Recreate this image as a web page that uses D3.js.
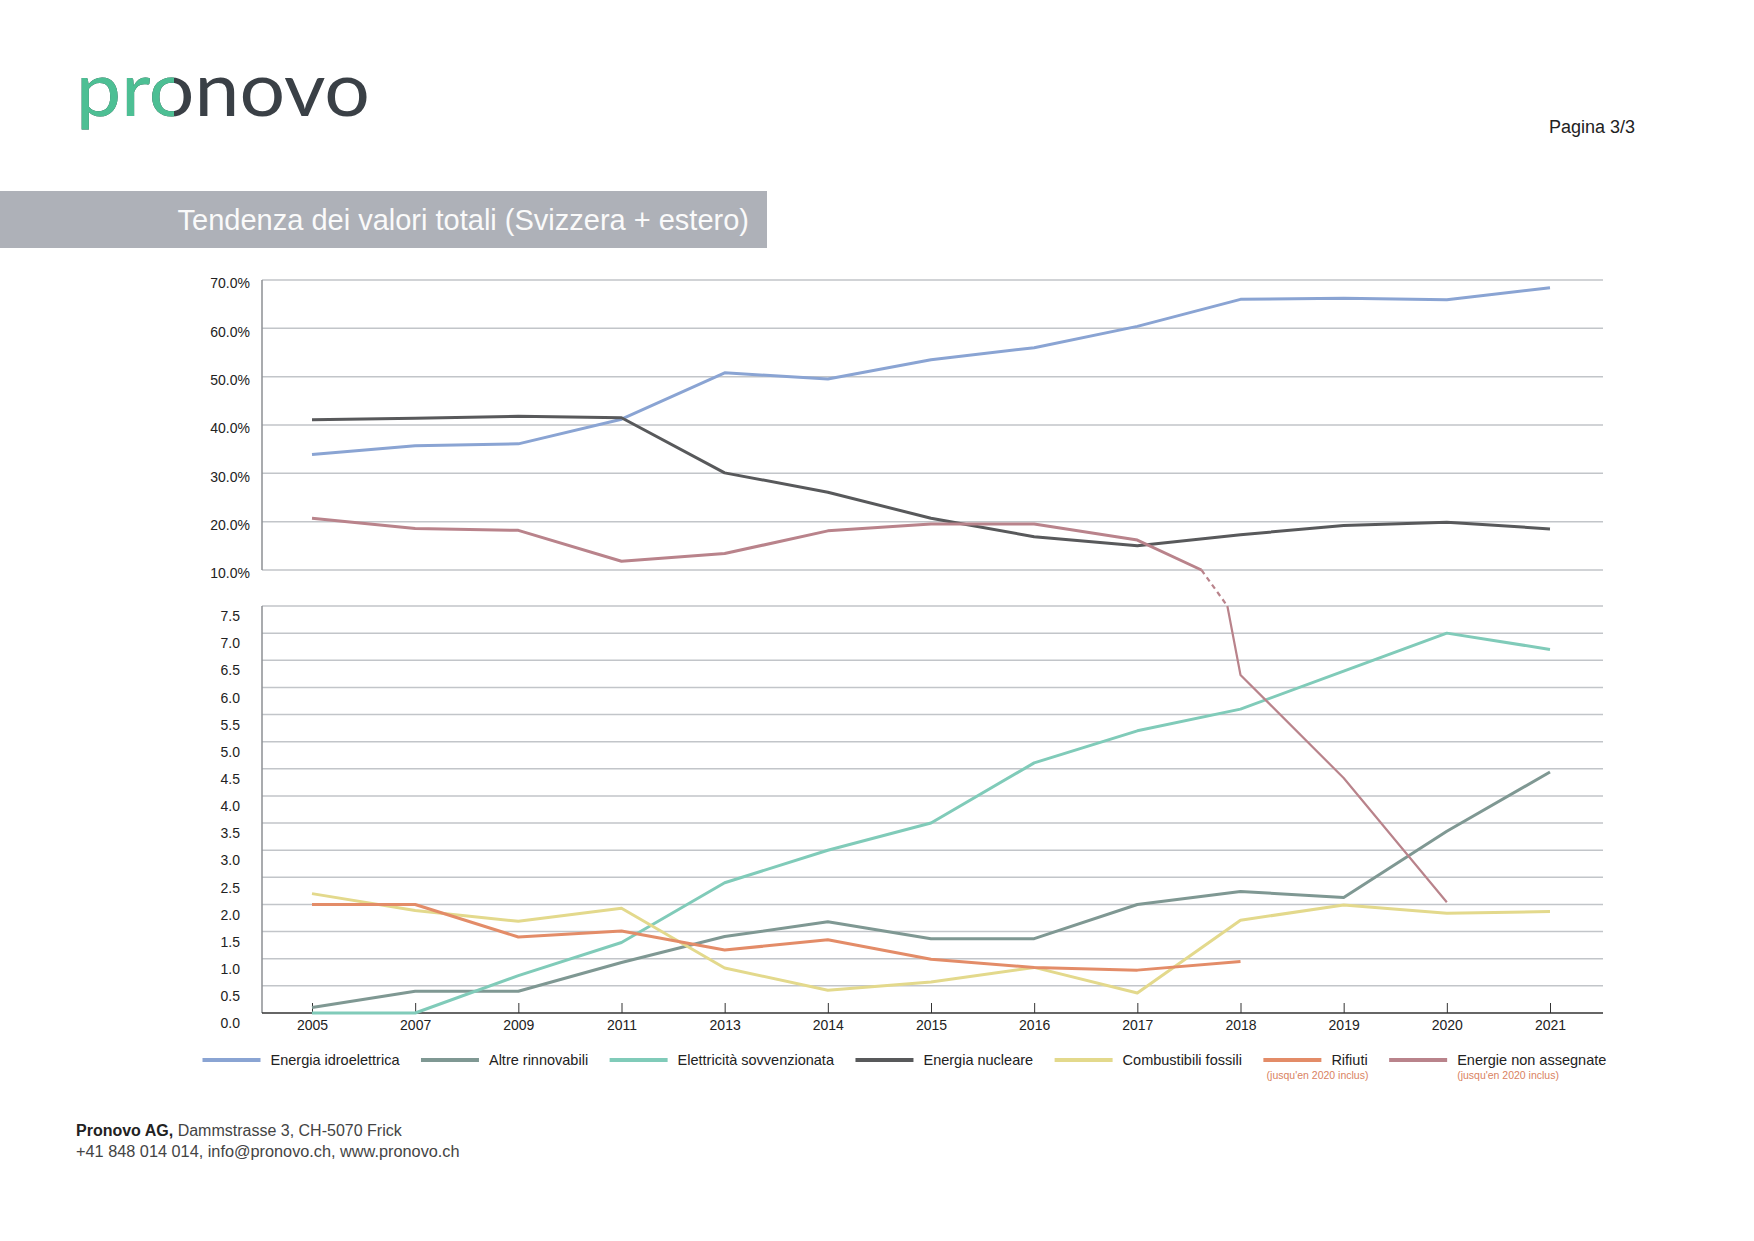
<!DOCTYPE html>
<html><head><meta charset="utf-8">
<script src="https://cdn.jsdelivr.net/npm/d3@7"></script>
<style>
body{margin:0;background:#fff;}
svg{display:block;font-family:"Liberation Sans",Arial,sans-serif;}
</style>
</head><body>
<svg id="c" width="1754" height="1241"></svg>
<script>
// ---------- DATA ----------
const categories = ["2005","2007","2009","2011","2013","2014","2015","2016","2017","2018","2019","2020","2021"];
const seriesNames = ["Energia idroelettrica","Altre rinnovabili","Elettricità sovvenzionata","Energia nucleare","Combustibili fossili","Rifiuti","Energie non assegnate"];
const seriesColors = ["#8aa4d3","#7f9893","#80cbb9","#58595b","#e3d98c","#e38c68","#b9838b"];
const hydro      = [33.9,35.7,36.1,41.2,50.8,49.5,53.5,56.0,60.4,66.0,66.2,65.9,68.4];
const otherRenew = [0.10,0.40,0.40,0.93,1.41,1.68,1.37,1.37,2.00,2.24,2.13,3.35,4.44];
const subsidised = [0.00,0.00,0.69,1.30,2.40,3.00,3.50,4.61,5.20,5.60,6.30,7.00,6.70];
const nuclear    = [41.1,41.4,41.8,41.5,30.1,26.1,20.7,16.9,15.0,17.3,19.2,19.9,18.5];
const fossil     = [2.20,1.89,1.69,1.93,0.83,0.42,0.57,0.84,0.37,1.71,1.99,1.84,1.87];
const waste      = [2.00,2.00,1.40,1.51,1.16,1.35,0.99,0.84,0.79,0.95,null,null,null];
const unassigned = [20.7,18.6,18.2,11.8,13.4,18.1,19.5,19.5,16.2,6.23,4.33,2.04,null];
const upperTicks = [10,20,30,40,50,60,70];
const lowerTicks = [0,0.5,1,1.5,2,2.5,3,3.5,4,4.5,5,5.5,6,6.5,7,7.5];
const breakLow = 7.5, breakHigh = 10;
const noteText = "(jusqu'en 2020 inclus)";
const allSeries = [hydro, otherRenew, subsidised, nuclear, fossil, waste, unassigned];

// ---------- PAGE ----------
const svg = d3.select("#c");
svg.append("rect").attr("width",1754).attr("height",1241).attr("fill","#fff");

// logo
const logoDark = svg.append("text").attr("x",76).attr("y",116)
  .attr("font-family","Lato, 'Open Sans', sans-serif").attr("font-size",75)
  .attr("textLength",294).attr("lengthAdjust","spacingAndGlyphs")
  .attr("fill","#3a4046").text("pronovo");
const ext = logoDark.node().getExtentOfChar(2);
const splitX = ext.x + ext.width*0.55;
svg.append("clipPath").attr("id","logoclip").append("rect")
  .attr("x",0).attr("y",0).attr("width",splitX).attr("height",200);
svg.append("text").attr("x",76).attr("y",116)
  .attr("font-family","Lato, 'Open Sans', sans-serif").attr("font-size",75)
  .attr("textLength",294).attr("lengthAdjust","spacingAndGlyphs")
  .attr("fill","#4dbf94").attr("clip-path","url(#logoclip)").text("pronovo");

svg.append("text").attr("x",1635).attr("y",133).attr("text-anchor","end")
  .attr("font-size",18).attr("fill","#222").text("Pagina 3/3");

svg.append("rect").attr("x",0).attr("y",191).attr("width",767).attr("height",57).attr("fill","#aeb1b8");
svg.append("text").attr("x",749).attr("y",230).attr("text-anchor","end")
  .attr("font-size",29).attr("fill","#fafafa").text("Tendenza dei valori totali (Svizzera + estero)");

// ---------- SCALES ----------
const x = d3.scalePoint().domain(categories).range([312,1550]);
const y = d3.scaleLinear().domain([0,breakLow,breakHigh,70]).range([1013,606,570,280]);
const gridX0 = 262, gridX1 = 1603;

// gridlines
const grid = svg.append("g");
grid.selectAll("line.g").data(upperTicks.concat(lowerTicks.filter(d=>d>0))).join("line")
  .attr("x1",gridX0).attr("x2",gridX1).attr("y1",d=>y(d)).attr("y2",d=>y(d))
  .attr("stroke","#c2c5c9").attr("stroke-width",1.5);

// left axis lines
svg.append("line").attr("x1",gridX0).attr("x2",gridX0).attr("y1",y(70)).attr("y2",y(breakHigh))
  .attr("stroke","#8c8f93").attr("stroke-width",1.5);
svg.append("line").attr("x1",gridX0).attr("x2",gridX0).attr("y1",y(breakLow)).attr("y2",y(0))
  .attr("stroke","#8c8f93").attr("stroke-width",1.5);

// y axis labels
const ua = svg.append("g").attr("transform",`translate(${gridX0},0)`)
  .call(d3.axisLeft(y).tickValues(upperTicks).tickFormat(d=>d.toFixed(1)+"%").tickSize(0).tickPadding(12));
ua.select(".domain").remove();
ua.selectAll("text").attr("font-size",14).attr("fill","#222").attr("font-family","'Liberation Sans',Arial,sans-serif").attr("dy","0.55em");
const la = svg.append("g").attr("transform",`translate(${gridX0},0)`)
  .call(d3.axisLeft(y).tickValues(lowerTicks).tickFormat(d=>d.toFixed(1)).tickSize(0).tickPadding(22));
la.select(".domain").remove();
la.selectAll("text").attr("font-size",14).attr("fill","#222").attr("font-family","'Liberation Sans',Arial,sans-serif").attr("dy","1.05em");

// bottom axis
const xa = svg.append("g").attr("transform",`translate(0,${y(0)})`)
  .call(d3.axisBottom(x).tickSizeInner(-10).tickSizeOuter(0).tickPadding(7));
xa.select(".domain").remove();
xa.selectAll("line").attr("stroke","#333").attr("stroke-width",1);
xa.selectAll("text").attr("font-size",14).attr("fill","#222").attr("font-family","'Liberation Sans',Arial,sans-serif");
svg.append("line").attr("x1",gridX0).attr("x2",gridX1).attr("y1",y(0)).attr("y2",y(0))
  .attr("stroke","#333").attr("stroke-width",1.6);

// ---------- LINES ----------
function polylines(vals){
  const segs=[];
  for(let i=0;i<vals.length-1;i++){
    const a=vals[i], b=vals[i+1];
    if(a==null||b==null) continue;
    const ts=[0];
    [breakHigh,breakLow].forEach(t=>{ if((a-t)*(b-t)<0) ts.push((t-a)/(b-a)); });
    ts.push(1); ts.sort((p,q)=>p-q);
    const xa0=x(categories[i]), xb0=x(categories[i+1]);
    for(let j=0;j<ts.length-1;j++){
      const t0=ts[j], t1=ts[j+1], vm=a+(b-a)*(t0+t1)/2;
      const kind = vm>=breakHigh?"up":(vm<=breakLow?"low":"gap");
      segs.push({kind, p0:[xa0+(xb0-xa0)*t0, a+(b-a)*t0], p1:[xa0+(xb0-xa0)*t1, a+(b-a)*t1]});
    }
  }
  const out=[];
  segs.forEach(s=>{
    const last=out[out.length-1];
    if(last && last.kind===s.kind && Math.abs(last.pts[last.pts.length-1][0]-s.p0[0])<1e-6){
      last.pts.push(s.p1);
    } else out.push({kind:s.kind, pts:[s.p0,s.p1]});
  });
  return out;
}
const line = d3.line().x(d=>d[0]).y(d=>y(d[1]));
const lg = svg.append("g");
allSeries.forEach((vals,k)=>{
  const thin = k===6;
  polylines(vals).forEach(pl=>{
    lg.append("path").attr("d",line(pl.pts)).attr("fill","none")
      .attr("stroke",seriesColors[k])
      .attr("stroke-width", pl.kind==="low" && thin ? 2.2 : (pl.kind==="gap"?2.2:3))
      .attr("stroke-dasharray", pl.kind==="gap" ? "5,4" : null)
      .attr("stroke-linejoin","round");
  });
});

// ---------- LEGEND ----------
const leg = svg.append("g");
let lx = 202.5;
const ly = 1060;
seriesNames.forEach((name,k)=>{
  leg.append("line").attr("x1",lx).attr("x2",lx+58).attr("y1",ly).attr("y2",ly)
    .attr("stroke",seriesColors[k]).attr("stroke-width",4);
  const t = leg.append("text").attr("x",lx+68).attr("y",ly+5).attr("font-size",14.5).attr("fill","#222").text(name);
  const tw = t.node().getComputedTextLength();
  if(k===5){
    leg.append("text").attr("x",(lx+lx+68+tw)/2+2).attr("y",ly+19).attr("text-anchor","middle")
      .attr("font-size",10.5).attr("fill","#d9825f").text(noteText);
  }
  if(k===6){
    leg.append("text").attr("x",lx+68).attr("y",ly+19)
      .attr("font-size",10.5).attr("fill","#d9825f").text(noteText);
  }
  lx += 68 + tw + 21.5;
});

// ---------- FOOTER ----------
const f1 = svg.append("text").attr("x",76).attr("y",1136).attr("font-size",16).attr("fill","#444");
f1.append("tspan").attr("font-weight","bold").attr("fill","#222").text("Pronovo AG,");
f1.append("tspan").text(" Dammstrasse 3, CH-5070 Frick");
svg.append("text").attr("x",76).attr("y",1157).attr("font-size",16.3).attr("fill","#444")
  .text("+41 848 014 014, info@pronovo.ch, www.pronovo.ch");
</script>
</body></html>
